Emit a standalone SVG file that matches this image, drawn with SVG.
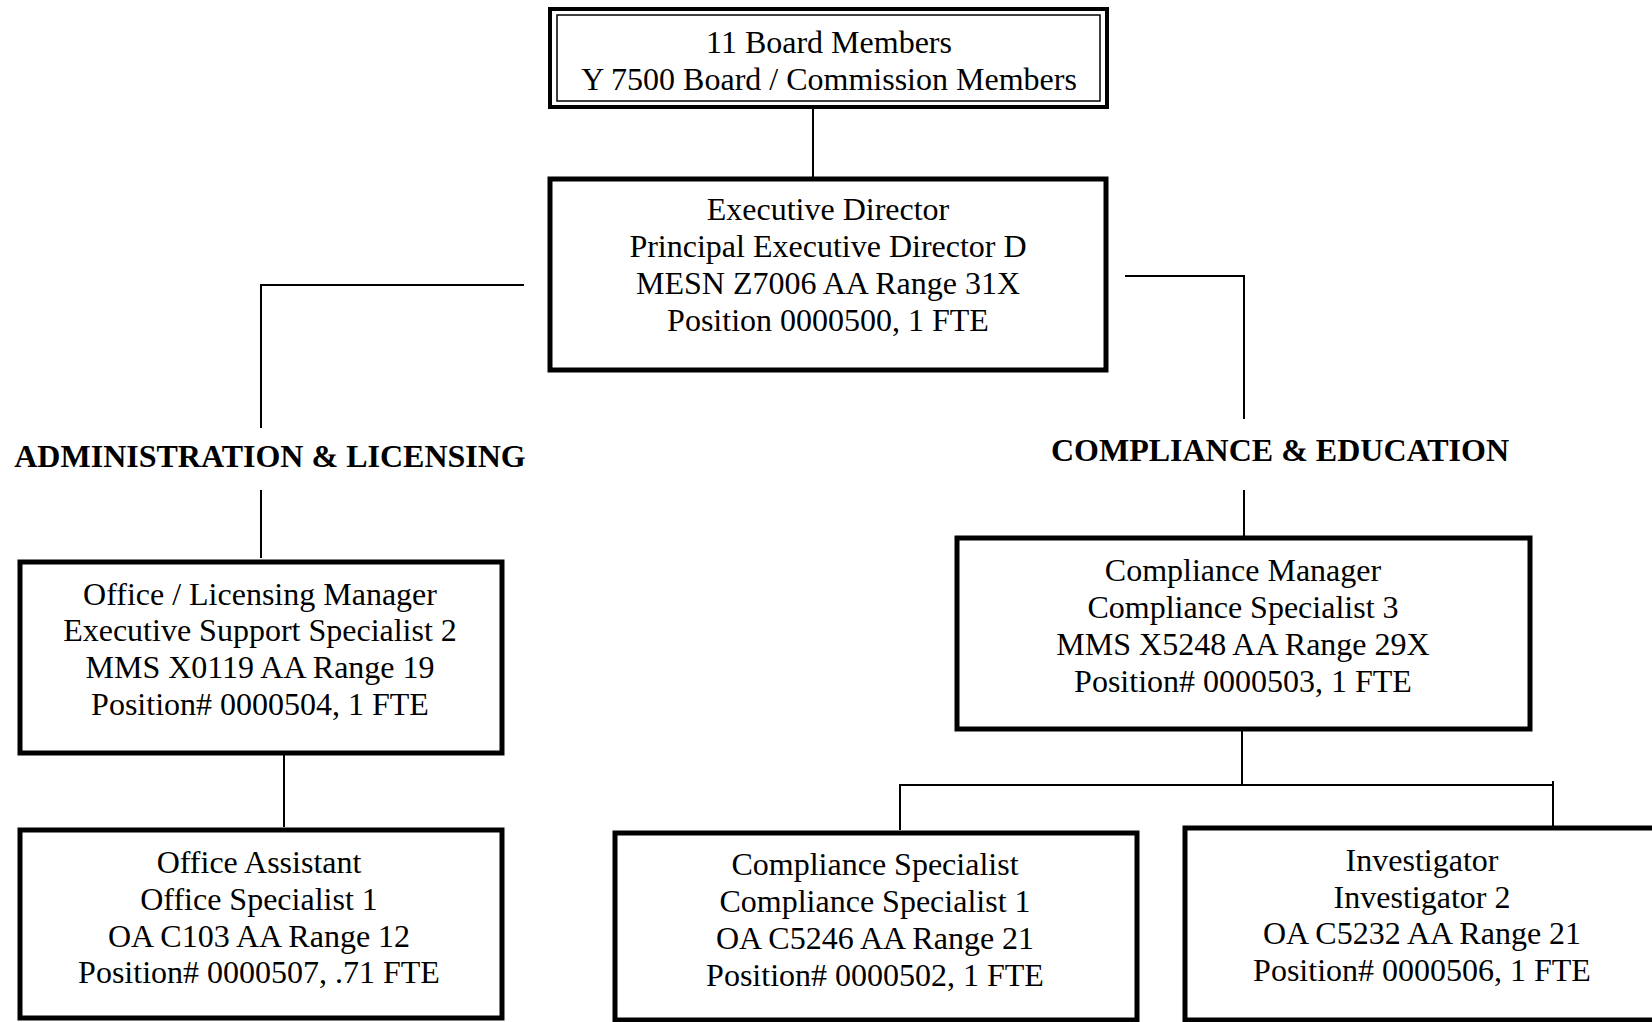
<svg xmlns="http://www.w3.org/2000/svg" width="1652" height="1022" viewBox="0 0 1652 1022">
<style>
.box{fill:#fff;stroke:#000;stroke-width:5}
.thin{fill:none;stroke:#000;stroke-width:1.5}
.t{font-family:"Liberation Serif","Times New Roman",serif;font-size:32px;fill:#000;text-anchor:middle}
.h{font-family:"Liberation Serif","Times New Roman",serif;font-size:32px;font-weight:bold;fill:#000;text-anchor:middle}
.c{fill:none;stroke:#000;stroke-width:2}
</style>
<rect width="1652" height="1022" fill="#fff"/>
<g id="connectors">
<path class="c" d="M813 108V177"/>
<path class="c" d="M524 285H261V428"/>
<path class="c" d="M261 490V558"/>
<path class="c" d="M284 754V827"/>
<path class="c" d="M1125 276H1244V419"/>
<path class="c" d="M1244 490V537"/>
<path class="c" d="M1242 730V785"/>
<path class="c" d="M900 830V785H1553"/>
<path class="c" d="M1553 781V826"/>
</g>
<g id="board">
<rect x="550" y="9" width="557" height="98" fill="#fff" stroke="#000" stroke-width="4"/>
<rect x="557" y="15" width="543" height="86" class="thin"/>
<text class="t" x="829" y="53">11 Board Members</text>
<text class="t" x="829" y="90">Y 7500 Board / Commission Members</text>
</g>
<g id="exec">
<rect class="box" x="550" y="179" width="556" height="191"/>
<text class="t" x="828" y="220">Executive Director</text>
<text class="t" x="828" y="257">Principal Executive Director D</text>
<text class="t" x="828" y="294">MESN Z7006 AA Range 31X</text>
<text class="t" x="828" y="331">Position 0000500, 1 FTE</text>
</g>
<g id="admin-heading">
<text class="h" x="270" y="467">ADMINISTRATION &amp; LICENSING</text>
</g>
<g id="compliance-heading">
<text class="h" x="1280" y="461">COMPLIANCE &amp; EDUCATION</text>
</g>
<g id="office-manager">
<rect class="box" x="20" y="562" width="482" height="191"/>
<text class="t" x="260" y="605">Office / Licensing Manager</text>
<text class="t" x="260" y="641">Executive Support Specialist 2</text>
<text class="t" x="260" y="678">MMS X0119 AA Range 19</text>
<text class="t" x="260" y="715">Position# 0000504, 1 FTE</text>
</g>
<g id="office-assistant">
<rect class="box" x="20" y="830" width="482" height="188"/>
<text class="t" x="259" y="873">Office Assistant</text>
<text class="t" x="259" y="910">Office Specialist 1</text>
<text class="t" x="259" y="947">OA C103 AA Range 12</text>
<text class="t" x="259" y="983">Position# 0000507, .71 FTE</text>
</g>
<g id="compliance-manager">
<rect class="box" x="957" y="538" width="573" height="191"/>
<text class="t" x="1243" y="581">Compliance Manager</text>
<text class="t" x="1243" y="618">Compliance Specialist 3</text>
<text class="t" x="1243" y="655">MMS X5248 AA Range 29X</text>
<text class="t" x="1243" y="692">Position# 0000503, 1 FTE</text>
</g>
<g id="compliance-specialist">
<rect class="box" x="615" y="833" width="522" height="187"/>
<text class="t" x="875" y="875">Compliance Specialist</text>
<text class="t" x="875" y="912">Compliance Specialist 1</text>
<text class="t" x="875" y="949">OA C5246 AA Range 21</text>
<text class="t" x="875" y="986">Position# 0000502, 1 FTE</text>
</g>
<g id="investigator">
<rect class="box" x="1185" y="828" width="480" height="192"/>
<text class="t" x="1422" y="871">Investigator</text>
<text class="t" x="1422" y="908">Investigator 2</text>
<text class="t" x="1422" y="944">OA C5232 AA Range 21</text>
<text class="t" x="1422" y="981">Position# 0000506, 1 FTE</text>
</g>
</svg>
